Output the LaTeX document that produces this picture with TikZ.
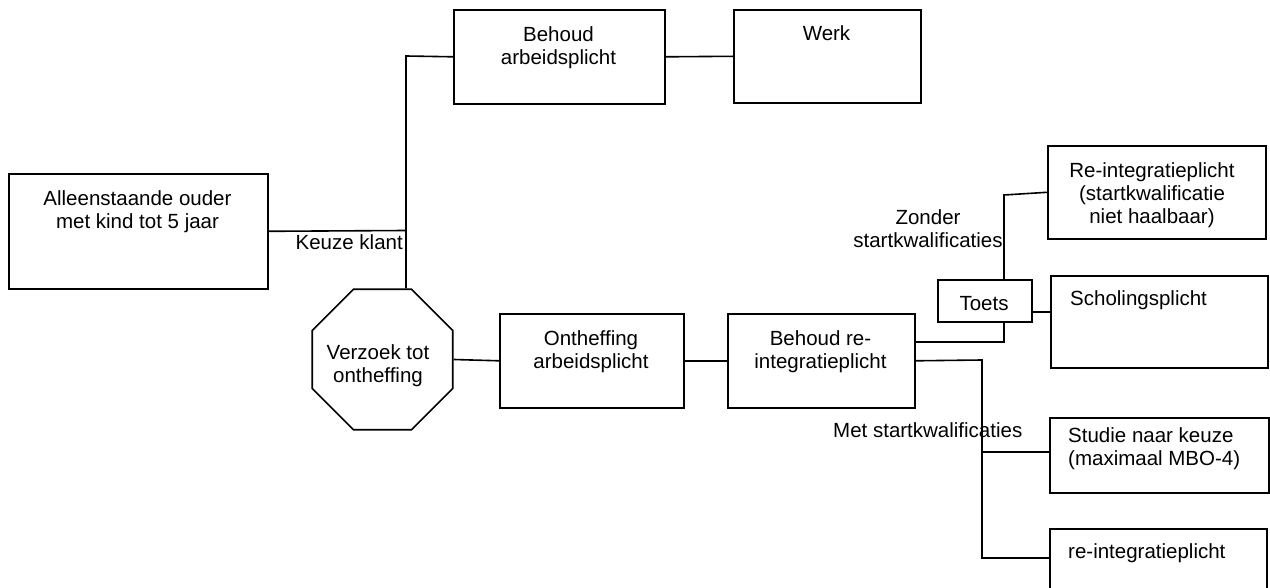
\documentclass[tikz,border=0pt]{standalone}
\usepackage{fontspec}
\setmainfont{Liberation Sans}
\usetikzlibrary{shapes.geometric}
\begin{document}
\begin{tikzpicture}[x=1pt,y=-1pt,
  box/.style={draw, line width=1.6pt, inner sep=0pt, anchor=north west},
  lbl/.style={inner sep=0pt, anchor=north, align=center, font=\fontsize{20.5}{23}\selectfont},
  lbll/.style={inner sep=0pt, anchor=north west, align=left, font=\fontsize{20.5}{23}\selectfont},
  con/.style={line width=1.6pt, line join=miter}]
\clip (0,0) rectangle (1270,588);
\useasboundingbox (0,0) rectangle (1270,588);
% boxes
\node[box, minimum width=259pt, minimum height=115pt] (A)  at (8,173) {};
\node[box, minimum width=211pt, minimum height=94pt]  (BA) at (453,9) {};
\node[box, minimum width=187pt, minimum height=93pt]  (W)  at (733,9) {};
\node[box, minimum width=184pt, minimum height=94pt]  (OA) at (499,313) {};
\node[box, minimum width=187pt, minimum height=94pt]  (BR) at (727,313) {};
\node[box, minimum width=94pt,  minimum height=42pt]  (T)  at (937,279) {};
\node[box, minimum width=218pt, minimum height=93pt]  (RI) at (1047,145) {};
\node[box, minimum width=217pt, minimum height=92pt]  (SP) at (1050,275) {};
\node[box, minimum width=219pt, minimum height=75pt]  (ST) at (1049,417) {};
\node[box, minimum width=217pt, minimum height=100pt] (R2) at (1049,528) {};
\node[draw, line width=1.6pt, regular polygon, regular polygon sides=8, minimum size=152pt, inner sep=0pt] (O) at (382.5,359.5) {};
% texts
\node[lbl] (At)  at (137.5,189) {\strut Alleenstaande ouder\\met kind tot 5 jaar};
\node[lbl] (BAt) at (558.5,25) {\strut Behoud\\arbeidsplicht};
\node[lbl] (Wt)  at (826.5,24) {\strut Werk};
\node[lbl] (Ot)  at (378,343) {\strut Verzoek tot\\ontheffing};
\node[lbl] (OAt) at (591,329) {\strut Ontheffing\\arbeidsplicht};
\node[lbl] (BRt) at (820.5,329) {\strut Behoud re-\\integratieplicht};
\node[lbl] (Tt)  at (984,294) {\strut Toets};
\node[lbl] (RIt) at (1152,161) {\strut Re-integratieplicht\\(startkwalificatie\\niet haalbaar)};
\node[lbll] (SPt) at (1070,289) {\strut Scholingsplicht};
\node[lbll] (STt) at (1068,426) {\strut Studie naar keuze\\(maximaal MBO-4)};
\node[lbll] (R2t) at (1068,542) {\strut re-integratieplicht};
\node[lbl, anchor=north east] (Kt) at (403,233) {\strut Keuze klant};
\node[lbl] (Zt) at (928,208) {\strut Zonder\\startkwalificaties};
\node[lbll] (Mt) at (833,421) {\strut Met startkwalificaties};
% connectors
\coordinate (j1) at (406,56);
\coordinate (j2) at (406,230.5);
\draw[con] (A.east) -- (j2);
\draw[con] (BA.west) -- (j1) -- (j1 |- O.north);
\draw[con] (BA.east) -- (W.west);
\draw[con] (O.east) -- (OA.west);
\draw[con] (OA.east) -- (BR.west);
\coordinate (k1) at (1004,342);
\draw[con] (BR.east |- k1) -- (k1) -- (k1 |- T.south);
\coordinate (k2) at (1004,195);
\draw[con] (k2 |- T.north) -- (k2) -- (RI.west);
\coordinate (k3) at (1031,312);
\draw[con] (T.east |- k3) -- (SP.west |- k3);
\coordinate (m1) at (982,360);
\coordinate (m2) at (982,452);
\coordinate (m3) at (982,558);
\draw[con] (BR.east) -- (m1) -- (m3) -- (R2.west |- m3);
\draw[con] (m2) -- (ST.west |- m2);
\end{tikzpicture}
\end{document}
